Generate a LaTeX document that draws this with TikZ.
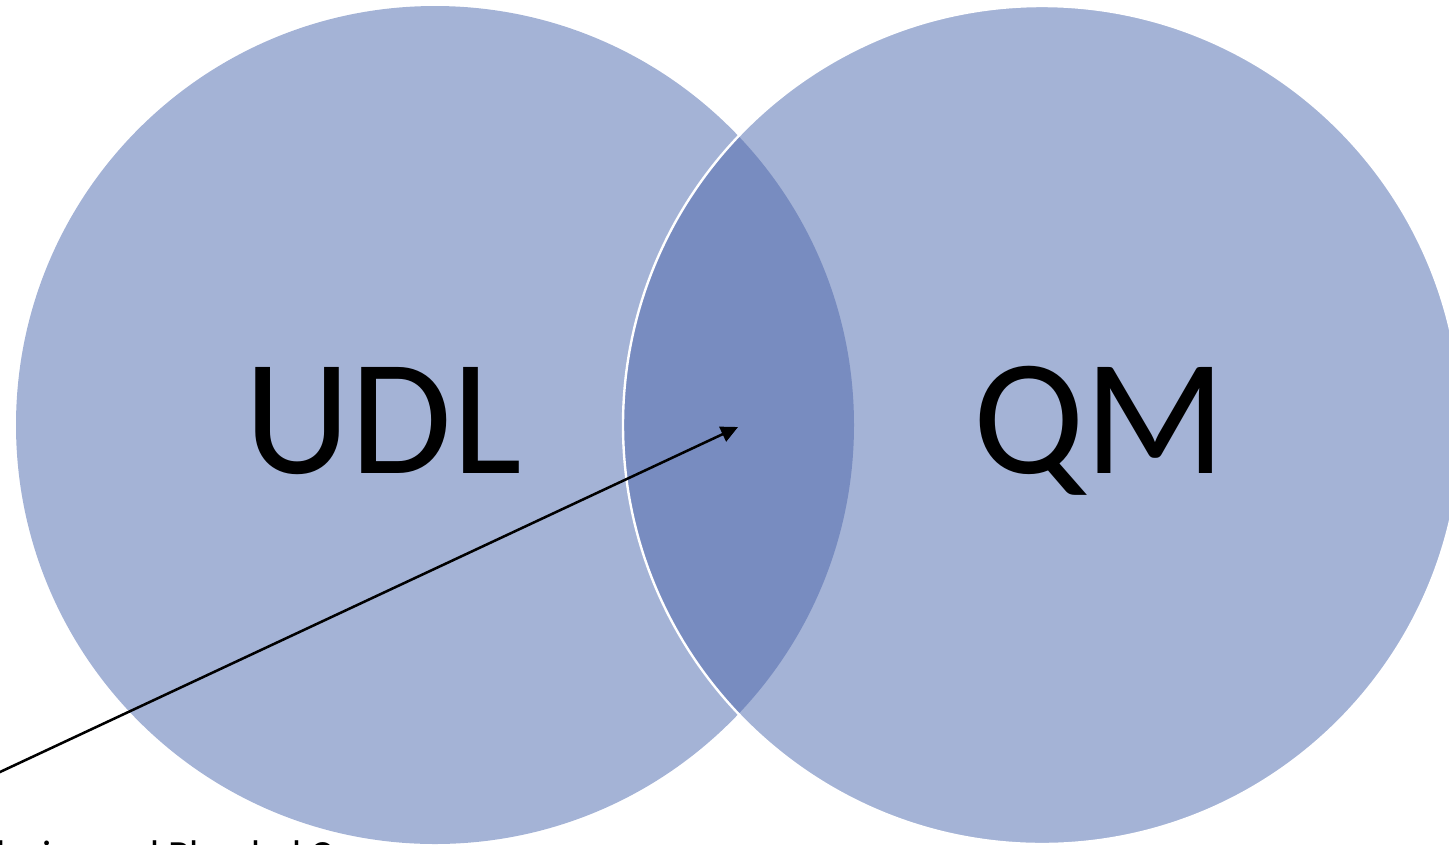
\documentclass[tikz,border=0pt]{standalone}
\usepackage{fontspec}
\setmainfont{Carlito}
\usetikzlibrary{arrows.meta}
\definecolor{setlight}{RGB}{164,179,214}
\definecolor{setdark}{RGB}{120,140,192}
\tikzset{
  setfill/.style={fill=setlight},
  lensfill/.style={fill=setdark},
  setlabel/.style={anchor=base, inner sep=0pt, font=\fontsize{124}{130}\selectfont},
  notelabel/.style={anchor=base west, inner sep=0pt, font=\fontsize{30}{36}\selectfont},
  pointer/.style={draw=black, line width=1.9pt, -{Triangle[length=12.75pt,width=12pt]}}
}
\begin{document}
\begin{tikzpicture}[x=0.75pt,y=-0.75pt]
\useasboundingbox (0,0) rectangle (1449,844);
\clip (0,0) rectangle (1449,844);
\coordinate (cL) at (435,425);
\coordinate (cR) at (1042,425);
\fill[setfill] (cL) circle[radius=314.25pt];
\fill[setfill] (cR) circle[radius=314.25pt];
\begin{scope}
  \clip (cL) circle[radius=314.25pt];
  \fill[lensfill] (cR) circle[radius=314.25pt];
\end{scope}
\draw[white, line width=1.8pt] (cR) circle[radius=314.25pt];
\node[setlabel] (udl) at (383,473) {UDL};
\node[setlabel] (qm) at (1100,473) {QM};
\node[notelabel] (note) at (-52,868) {Inclusive and Blended Courses};
\coordinate (lens) at (738,427);
\coordinate (start) at (-20,781.35);
\draw[pointer] (start) -- (lens);
\end{tikzpicture}
\end{document}
